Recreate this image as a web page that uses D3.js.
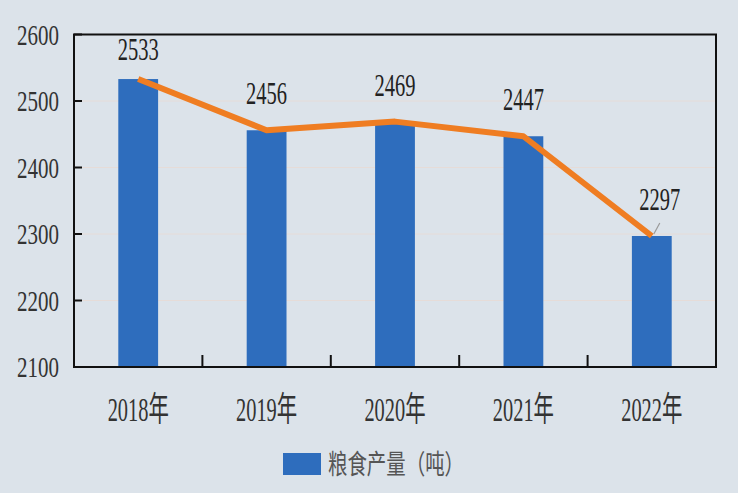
<!DOCTYPE html>
<html><head><meta charset="utf-8">
<script src="https://cdn.jsdelivr.net/npm/d3@7"></script>
<style>
html,body{margin:0;padding:0;background:#dce3ea;}
svg{display:block;}
</style></head>
<body>
<script>
const categories = ["2018年","2019年","2020年","2021年","2022年"];
const values = [2533, 2456, 2469, 2447, 2297];
const yTicks = [2100, 2200, 2300, 2400, 2500, 2600];
const seriesName = "粮食产量（吨）";

const W = 738, H = 493;
const L = 74, R = 716, T = 34.5, B = 367;
const serif = "'Liberation Serif','Times New Roman','Noto Sans CJK SC',serif";

const svg = d3.select("body").append("svg").attr("width", W).attr("height", H);
svg.append("rect").attr("width", W).attr("height", H).attr("fill", "#dce3ea");

const x = d3.scaleBand().domain(categories).range([L, R]).padding(0);
const y = d3.scaleLinear().domain([2100, 2600]).range([B, T]);
const barW = x.bandwidth() * 0.31;

// gridlines
svg.append("g").selectAll("line").data(yTicks.filter(t => t > 2100 && t < 2600)).join("line")
  .attr("x1", L).attr("x2", R).attr("y1", d => y(d)).attr("y2", d => y(d))
  .attr("stroke", "#e6dcd8").attr("stroke-width", 1);

// bars
svg.append("g").selectAll("rect").data(values).join("rect")
  .attr("x", (d, i) => x(categories[i]) + x.bandwidth() / 2 - barW / 2)
  .attr("y", d => y(d)).attr("width", barW).attr("height", d => B - y(d))
  .attr("fill", "#2e6dbd");

// frame
svg.append("rect").attr("x", L).attr("y", T).attr("width", R - L).attr("height", B - T)
  .attr("fill", "none").attr("stroke", "#111").attr("stroke-width", 2);

// y axis ticks (inward)
svg.append("g").selectAll("line").data(yTicks).join("line")
  .attr("x1", L).attr("x2", L + 8).attr("y1", d => y(d)).attr("y2", d => y(d))
  .attr("stroke", "#111").attr("stroke-width", 2);

// x ticks at category boundaries (inward)
svg.append("g").selectAll("line").data(categories.slice(1)).join("line")
  .attr("x1", d => x(d)).attr("x2", d => x(d)).attr("y1", B).attr("y2", B - 12)
  .attr("stroke", "#111").attr("stroke-width", 2);

// y tick labels
svg.append("g").selectAll("text").data(yTicks).join("text")
  .attr("transform", d => `translate(59,${y(d) + 10}) scale(0.7,1)`)
  .attr("text-anchor", "end").attr("font-family", serif).attr("font-size", 30)
  .attr("fill", "#333").text(d => d);

// x labels
svg.append("g").selectAll("text").data(categories).join("text")
  .attr("transform", d => `translate(${x(d) + x.bandwidth() / 2},421) scale(0.6,1)`)
  .attr("text-anchor", "middle").attr("font-family", serif).attr("font-size", 34)
  .attr("fill", "#333").text(d => d);

// line
const line = d3.line().x((d, i) => x(categories[i]) + x.bandwidth() / 2).y(d => y(d));
svg.append("path").datum(values).attr("d", line).attr("fill", "none")
  .attr("stroke", "#ef7d22").attr("stroke-width", 6).attr("stroke-linejoin", "round");

// leader line for last label
const lastI = values.length - 1;
const lx = x(categories[lastI]) + x.bandwidth() / 2, ly = y(values[lastI]);
svg.append("line").attr("x1", lx + 2).attr("y1", ly - 2).attr("x2", lx + 8).attr("y2", ly - 13)
  .attr("stroke", "#999").attr("stroke-width", 1.2);

// data labels
svg.append("g").selectAll("text").data(values).join("text")
  .attr("transform", (d, i) => `translate(${x(categories[i]) + x.bandwidth() / 2 + (i === lastI ? 8 : 0)},${Math.max(y(d) - 26, 60)}) scale(0.64,1)`)
  .attr("text-anchor", "middle").attr("font-family", serif).attr("font-size", 32)
  .attr("fill", "#222").text(d => d);

// legend
svg.append("rect").attr("x", 283).attr("y", 453).attr("width", 38).attr("height", 22).attr("fill", "#2e6dbd");
svg.append("text").attr("transform", "translate(328,474) scale(0.72,1)")
  .attr("font-family", "'Noto Sans CJK SC',sans-serif").attr("font-size", 27)
  .attr("fill", "#555").text(seriesName);
</script>
</body></html>
